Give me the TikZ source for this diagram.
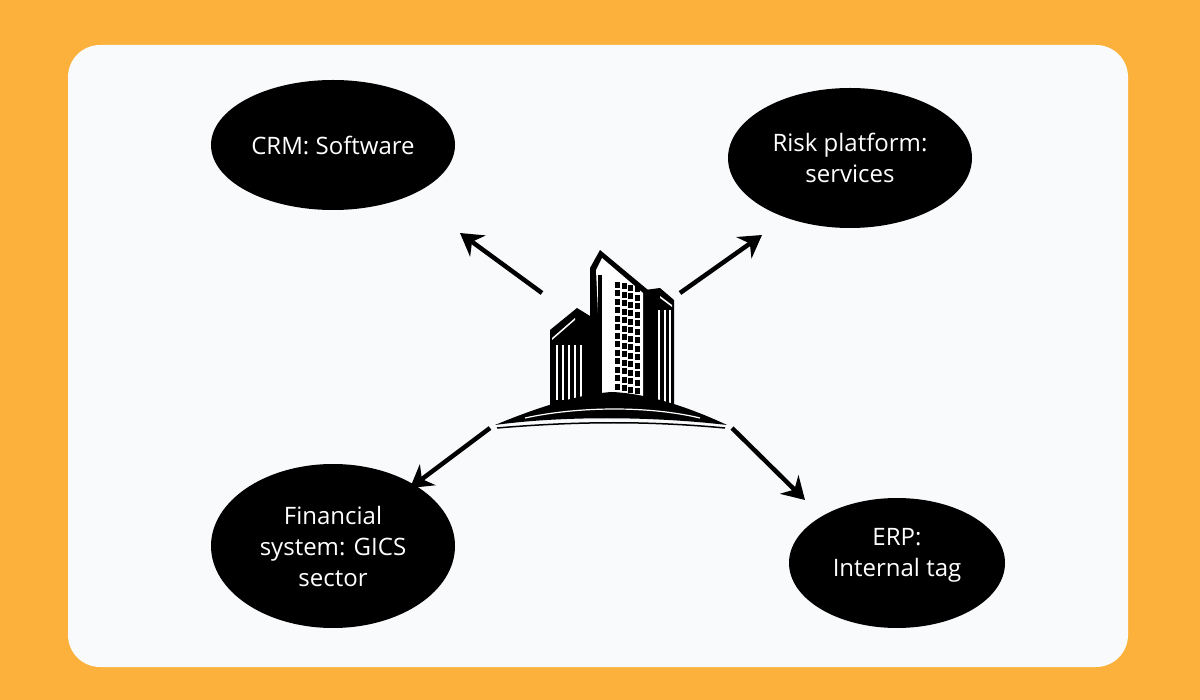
\documentclass[tikz,border=0pt]{standalone}
\usepackage{fontspec}
\setmainfont{Open Sans}
\usetikzlibrary{arrows.meta,shapes.geometric}
\definecolor{bgor}{HTML}{FBB13C}
\definecolor{panel}{HTML}{F9FAFC}
\begin{document}
\begin{tikzpicture}[x=1pt,y=-1pt,
  bub/.style={ellipse,fill=black,text=white,align=center,inner sep=0pt,font=\fontsize{24}{31}\selectfont},
  arr/.style={line width=4.5pt,-{Stealth[length=22pt,width=26pt]}}]
\fill[bgor] (0,0) rectangle (1200,700);
\fill[panel,rounded corners=32pt] (68,45) rectangle (1128,667);
\node[bub,minimum width=244pt,minimum height=130pt] (crm) at (333,145) {CRM: Software};
\node[bub,minimum width=244pt,minimum height=140pt] (risk) at (850,158) {Risk platform:\\services};
\node[bub,minimum width=244pt,minimum height=164pt] (fin) at (333,546) {Financial\\system: GICS\\sector};
\node[bub,minimum width=216pt,minimum height=130pt] (erp) at (897,563) {ERP:\\Internal tag\\[-10pt]};
\coordinate (a1) at (542,293); \coordinate (b1) at (460,233);
\coordinate (a2) at (680,293); \coordinate (b2) at (762,235);
\coordinate (a3) at (490,428); \coordinate (b3) at (410,488);
\coordinate (a4) at (732,428); \coordinate (b4) at (805,500);
\draw[arr] (a1) -- (b1);
\draw[arr] (a2) -- (b2);
\draw[arr] (a3) -- (b3);
\draw[arr] (a4) -- (b4);
% building
\fill (550,330) -- (577,308) -- (590,316) -- (590,402) -- (550,405) -- cycle;
\fill[white] (552,338) -- (575,318) -- (575,320) -- (552,340) -- cycle;
\foreach \x in {556,562,568,574,580} \fill[white] (\x,345) rectangle (\x+1.5,400);
\fill (590,268) -- (600,250) -- (648,290) -- (648,400) -- (590,400) -- cycle;
\fill[white] (596,270) -- (602,258) -- (643,293) -- (643,398) -- (602,398) -- cycle;
\fill (598,275) rectangle (602,398);
\foreach \r in {0,...,12}{\foreach \c in {0,...,3}{
  \fill (615+\c*6.5,282+\r*8.5+\c*1.5) rectangle ++(5,6);}}
\fill (645,290) -- (660,288) -- (674,300) -- (674,408) -- (645,408) -- cycle;
\fill[white] (660,296) -- (672,305) -- (672,307) -- (660,298) -- cycle;
\foreach \x in {658,664,669} \fill[white] (\x,310) rectangle (\x+1.5,404);
\fill (495,425) .. controls (560,398) and (595,393) .. (612,392) .. controls (640,393) and (680,403) .. (727,425) .. controls (650,416) and (560,416) .. (495,425) -- cycle;
\draw[white,line width=1.2pt] (525,418) .. controls (580,406) and (650,406) .. (700,418);
\draw[line width=1.5pt] (497,428) .. controls (580,421) and (650,421) .. (725,428);
\end{tikzpicture}
\end{document}
